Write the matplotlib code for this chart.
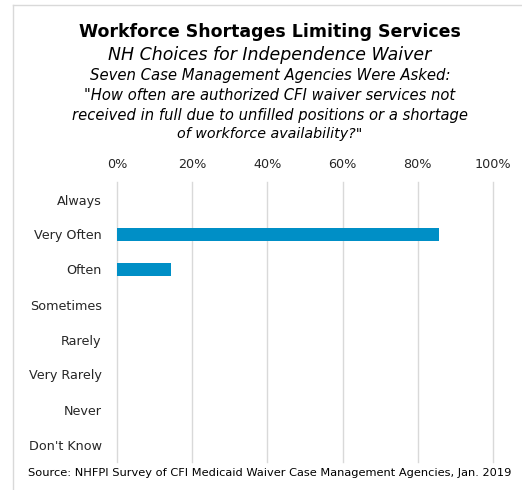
import numpy as np
import matplotlib.pyplot as plt

categories = ["Always", "Very Often", "Often", "Sometimes", "Rarely",
              "Very Rarely", "Never", "Don't Know"]
shares = [0.0, 85.7, 14.3, 0.0, 0.0, 0.0, 0.0, 0.0]
x_ticks = [0, 20, 40, 60, 80, 100]
x_tick_labels = ["0%", "20%", "40%", "60%", "80%", "100%"]

W, H = 522, 490
fig = plt.figure(figsize=(W / 100, H / 100), dpi=100)
fig.patch.set_facecolor("white")

# plot area in pixel terms -> figure fractions
left, right, top, bottom = 117, 493, 182, 462
ax = fig.add_axes([left / W, 1 - bottom / H, (right - left) / W, (bottom - top) / H])

y = np.arange(len(categories))
ax.barh(y, shares, height=0.38, color="#008FC6", zorder=3)
ax.set_ylim(len(categories) - 0.5, -0.5)
ax.set_xlim(0, 100)
ax.set_yticks(y)
ax.set_yticklabels(categories, fontsize=9.2, color="#262626")
ax.set_xticks(x_ticks)
ax.set_xticklabels(x_tick_labels, fontsize=9.2, color="#262626")
ax.xaxis.tick_top()
ax.tick_params(axis="y", length=0, pad=11)
ax.tick_params(axis="x", length=0, pad=8)
ax.grid(axis="x", color="#D9D9D9", linewidth=1, zorder=0)
for gl in ax.get_xgridlines():
    gl.set_clip_on(False)
for s in ax.spines.values():
    s.set_visible(False)

# outer frame (left and top edges visible in the crop)
fig.add_artist(plt.Line2D([13 / W, 13 / W], [0, 1 - 5 / H], color="#D9D9D9", lw=1))
fig.add_artist(plt.Line2D([13 / W, 1], [1 - 5 / H, 1 - 5 / H], color="#D9D9D9", lw=1))

cx = 270 / W
fig.text(cx, 1 - 32 / H, "Workforce Shortages Limiting Services", ha="center", va="center",
         fontsize=12.5, fontweight="bold", color="black")
sub = ["NH Choices for Independence Waiver",
       "Seven Case Management Agencies Were Asked:",
       "\"How often are authorized CFI waiver services not",
       "received in full due to unfilled positions or a shortage",
       "of workforce availability?\""]
sub_y = [55, 75, 95, 115, 134]
sub_size = [12.5, 10.7, 10.6, 10.65, 10.3]
for txt, yy, fs in zip(sub, sub_y, sub_size):
    fig.text(cx, 1 - yy / H, txt, ha="center", va="center", fontsize=fs,
             style="italic", color="black")

fig.text(270 / W, 1 - 473 / H,
         "Source: NHFPI Survey of CFI Medicaid Waiver Case Management Agencies, Jan. 2019",
         ha="center", va="center", fontsize=8.2, color="black")

fig.savefig("out.png", dpi=100)
